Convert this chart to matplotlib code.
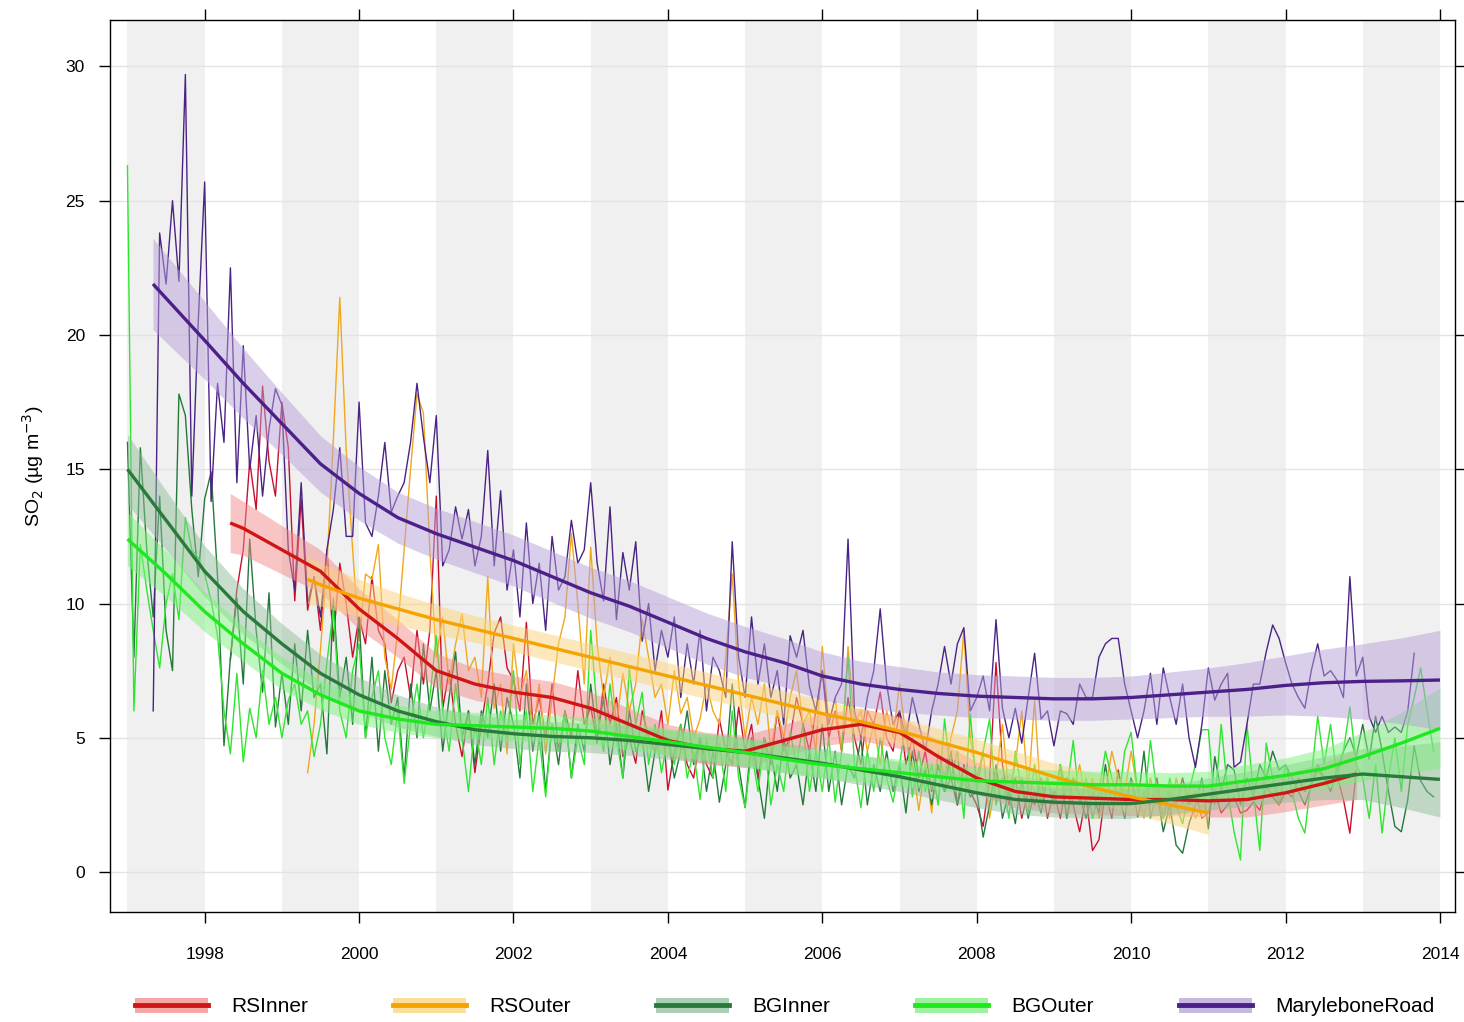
import numpy as np
import matplotlib
matplotlib.use("Agg")
import matplotlib.pyplot as plt
from matplotlib.patches import Patch
from matplotlib.lines import Line2D
from matplotlib.legend_handler import HandlerTuple

plt.rcParams['font.family'] = ['Liberation Sans', 'DejaVu Sans']

# ---- monthly means (start year, start month) ----
mary_start = (1997, 5)
mary = [6.0, 23.8, 21.9, 25.0, 22.0, 29.7, 14.0, 20.5,
        25.7, 13.8, 18.2, 16.0, 22.5, 14.5, 19.6, 15.0, 17.0, 14.0, 16.5, 18.0,
        17.4, 12.0, 10.5, 14.5, 10.0, 11.0, 9.5, 12.0, 13.5, 15.8, 12.5, 12.5,
        17.5, 13.0, 12.5, 14.0, 16.0, 13.4, 14.0, 14.5, 16.0, 18.2, 16.2, 14.5,
        17.0, 11.4, 12.0, 13.6, 12.4, 13.5, 11.4, 12.5, 15.7, 11.4, 14.2, 10.5,
        12.0, 9.5, 13.0, 10.0, 11.5, 9.0, 12.5, 10.5, 11.0, 13.1, 11.5, 12.0,
        14.5, 11.5, 10.1, 13.6, 9.4, 11.9, 10.5, 12.3, 8.6, 10.0, 7.5, 9.0,
        8.0, 9.5, 6.5, 8.5, 7.0, 9.0, 6.0, 8.0, 7.5, 6.5, 12.3, 8.0,
        6.5, 9.5, 7.0, 8.5, 6.5, 7.5, 5.5, 8.8, 8.0, 9.0, 6.9, 6.0,
        7.5, 5.5, 6.5, 7.0, 12.4, 6.0, 5.0, 6.5, 7.5, 9.8, 7.0, 5.5,
        6.0, 5.0, 6.5, 5.5, 4.5, 6.0, 7.0, 8.4, 7.0, 8.5, 9.1, 6.0,
        6.5, 7.3, 6.0, 9.4, 6.1, 5.0, 6.1, 4.8, 6.5, 8.15, 5.7, 6.0,
        4.7, 6.0, 5.9, 5.5, 7.0, 6.5, 6.5, 8.0, 8.5, 8.7, 8.7, 7.0,
        6.0, 5.0, 6.0, 7.4, 5.5, 7.6, 6.5, 5.5, 7.0, 5.0, 3.9, 5.5,
        7.6, 6.4, 7.0, 7.4, 3.9, 4.1, 5.5, 7.0, 7.0, 8.2, 9.2, 8.7,
        7.8, 7.0, 6.5, 6.1, 7.5, 8.5, 7.3, 7.5, 7.15, 6.5, 11.0, 7.3,
        8.0, 5.8, 5.2, 5.8, 5.2, 5.4, 5.2, 6.0, 8.15]

bginner_start = (1997, 1)
bginner = [16.0, 8.0, 15.8, 12.0, 9.5, 14.0, 9.0, 7.5, 17.8, 17.0, 13.5, 11.0,
           13.9, 14.9, 11.0, 4.7, 8.0, 10.2, 7.0, 12.4, 9.0, 6.7, 10.4, 5.4,
           7.4, 5.5, 8.5, 6.0, 9.0, 6.5, 7.0, 4.4, 10.2, 6.5, 8.0, 5.5,
           9.5, 5.0, 8.0, 4.5, 7.5, 5.5, 6.5, 3.5, 7.0, 5.0, 8.5, 6.0,
           7.5, 4.5, 6.5, 8.2, 5.0, 6.0, 4.0, 6.0, 5.0, 7.0, 4.5, 6.5,
           5.5, 3.5, 7.0, 4.5, 6.0, 3.0, 5.5, 4.0, 6.0, 3.5, 5.5, 4.5,
           7.0, 5.0, 6.5, 4.0, 5.5, 3.5, 6.0, 4.5, 5.0, 3.0, 4.5, 5.0,
           5.0, 3.5, 4.5, 6.0, 4.0, 5.0, 3.0, 4.5, 2.6, 4.0, 7.0, 4.0,
           2.4, 5.0, 3.5, 2.0, 4.5, 3.0, 5.0, 3.5, 4.0, 2.5, 4.5, 3.0,
           5.5, 3.0, 4.5, 2.5, 4.0, 3.5, 5.0, 2.5, 4.0, 3.0, 4.5, 3.0,
           4.0, 2.2, 4.5, 3.0, 3.8, 2.5, 4.0, 3.0, 4.5, 2.5, 3.5, 2.8,
           3.0, 1.3, 2.5, 4.0, 2.0, 3.0, 1.8, 3.5, 2.0, 3.0, 2.2, 3.5,
           2.5, 4.0, 2.0, 3.5, 2.8, 2.0, 3.0, 2.2, 4.0, 2.5, 3.0, 2.0,
           3.5, 2.5, 4.5, 2.0, 3.0, 1.5, 2.5, 1.0, 0.7, 1.8, 2.5, 3.5,
           1.6, 4.3, 3.0, 4.0, 3.8, 2.5, 3.5, 2.8, 4.0, 3.5, 4.5, 3.8,
           4.0, 3.5, 3.0, 2.5, 3.2, 4.0, 3.5, 3.0, 3.8, 4.5, 5.0, 4.3,
           5.5, 4.2, 5.8, 4.5, 3.0, 1.7, 1.5, 2.7, 4.7, 3.4, 3.0, 2.8]

bgouter_start = (1997, 1)
bgouter = [26.3, 6.0, 12.2, 10.5, 9.0, 7.6, 10.0, 11.1, 9.4, 13.2, 12.0, 11.7,
           11.1, 10.1, 8.8, 6.0, 4.4, 7.4, 4.1, 6.1, 5.0, 7.5, 5.5, 6.5,
           5.0, 6.4, 7.0, 5.5, 6.0, 4.3, 5.5, 7.8, 9.8, 6.0, 5.0, 7.5,
           8.5, 5.0, 6.5, 7.5, 5.0, 4.0, 6.0, 3.3, 5.5, 7.0, 5.0, 6.5,
           8.8, 6.0, 4.5, 7.0, 5.0, 3.0, 5.5, 4.0, 6.5, 4.0, 6.0, 5.0,
           7.5, 4.0, 6.0, 3.0, 5.0, 2.8, 5.5, 4.5, 6.0, 3.5, 5.0, 4.0,
           9.0, 6.0, 4.5, 7.0, 5.0, 3.5, 7.6, 5.5, 6.7, 4.0, 5.5, 3.7,
           5.0, 4.0, 5.5, 3.5, 4.5, 2.7, 5.0, 3.5, 4.8, 3.0, 6.0, 3.5,
           2.4, 4.5, 3.0, 5.0, 2.5, 4.0, 3.0, 5.2, 4.0, 5.5, 3.0, 4.5,
           3.0, 5.0, 2.6, 4.5, 8.0, 4.0, 2.4, 4.5, 3.0, 5.0, 3.5, 2.6,
           4.0, 5.5, 2.8, 4.5, 3.0, 4.0, 2.5, 5.7, 3.5, 4.5, 2.0, 5.9,
           3.0, 4.5, 5.7, 2.5, 3.5, 2.0, 4.5, 3.0, 2.2, 4.0, 2.5, 3.5,
           2.5, 4.0, 3.0, 4.9, 2.5, 3.5, 2.0, 3.0, 4.5, 3.5, 2.5, 4.5,
           5.2, 3.0, 2.5, 4.9, 3.0, 2.0, 3.5, 2.5, 1.8, 3.0, 4.0, 5.3,
           5.3, 2.5, 5.5, 3.0, 1.5, 0.45, 5.5, 3.0, 0.8, 4.8, 3.5, 2.5,
           4.0, 3.0, 2.0, 1.45, 3.5, 5.8, 4.0, 5.5, 3.5, 4.5, 6.15, 4.0,
           3.5, 2.0, 4.0, 1.45, 3.5, 5.0, 3.0, 5.5, 6.5, 7.6, 6.0, 4.5]

rsinner_start = (1998, 5)
rsinner = [7.9, 10.5, 12.0, 15.3, 13.5, 18.1, 15.3, 14.0,
           17.5, 15.8, 10.1, 13.9, 9.75, 11.0, 9.0, 12.0, 8.6, 11.5, 10.0, 8.0,
           9.5, 8.5, 11.0, 9.0, 8.5, 6.3, 7.5, 8.0, 6.5, 9.0, 7.0, 9.0,
           14.0, 6.1, 7.5, 5.5, 4.3, 6.0, 3.7, 5.5, 7.0, 8.9, 9.5, 7.6,
           7.15, 6.0, 9.3, 5.5, 6.5, 5.0, 7.0, 4.5, 6.0, 5.0, 7.5, 5.5,
           6.15, 4.8, 7.0, 5.5, 6.5, 4.3, 5.0, 4.05, 6.0, 5.0, 4.5, 6.0,
           3.05, 4.5, 5.5, 4.0, 3.5, 5.0, 4.0, 3.5, 5.7, 4.5, 4.0, 6.15,
           4.5, 5.5, 3.5, 5.0, 4.0, 6.0, 4.5, 5.0, 6.5, 5.5, 4.5, 6.0,
           7.5, 5.0, 6.0, 4.5, 6.5, 5.0, 4.0, 6.0, 5.5, 6.7, 5.0, 4.5,
           6.0, 4.0, 5.0, 3.5, 4.5, 3.0, 4.0, 3.0, 3.5, 2.5, 4.0, 3.0,
           2.5, 1.7, 3.5, 7.8, 4.0, 2.5, 3.5, 2.0, 3.0, 2.5, 3.5, 2.0,
           3.0, 2.0, 3.5, 2.5, 1.5, 2.8, 0.8, 1.2, 3.0, 2.0, 3.8, 2.5,
           3.5, 2.05, 3.0, 2.5, 3.5, 2.0, 3.0, 2.5, 3.5, 2.5, 3.0, 2.0,
           2.2, 3.0, 2.2, 2.5, 2.8, 2.2, 2.3, 2.6, 2.3, 3.2, 2.8, 2.5,
           3.0, 2.8, 3.5, 3.0, 3.3, 3.8, 3.5, 3.3, 3.6, 2.7, 1.45, 3.8]

rsouter_start = (1999, 5)
rsouter = [3.7, 5.5, 8.3, 11.4, 16.1, 21.4, 15.7, 12.0,
           8.6, 11.1, 10.9, 12.2, 8.0, 6.8, 9.0, 12.0, 15.0, 17.8, 17.1, 12.0,
           8.0, 9.5, 7.0, 8.5, 9.6, 7.5, 8.0, 6.5, 11.0, 6.1, 7.0, 4.4,
           8.5, 6.5, 7.5, 5.0, 7.0, 4.4, 6.5, 8.5, 9.5, 12.6, 10.0, 7.0,
           12.1, 8.5, 6.5, 8.0, 5.5, 7.4, 6.0, 7.0, 9.4, 8.0, 6.5, 7.0,
           5.5, 7.5, 5.9, 6.5, 5.0, 5.7, 7.0, 6.0, 5.5, 8.0, 11.1, 7.0,
           5.0, 6.5, 5.5, 7.0, 4.5, 6.0, 5.0, 6.5, 7.5, 5.5, 6.0, 4.5,
           8.4, 5.5, 6.5, 4.5, 8.4, 5.5, 6.0, 4.5, 5.5, 4.0, 6.0, 5.0,
           7.0, 5.0, 4.0, 2.3, 4.0, 2.2, 4.5, 3.5, 5.0, 6.0, 9.0, 5.0,
           3.5, 4.5, 2.0, 3.5, 5.5, 3.0, 4.0, 6.0, 3.0, 6.4, 2.5, 3.5,
           2.5, 3.5, 2.0, 3.0, 4.0, 2.5, 3.5, 2.0, 3.0, 4.5, 3.5, 3.0,
           4.5, 3.0, 2.0, 3.5, 2.5, 3.0, 2.0, 3.5, 2.5, 3.0, 2.0, 2.5,
           2.2]

# ---- smooth trends (year, value, band half-width) ----
mary_tr_x = [1997.33, 1998, 1998.5, 1999, 1999.5, 2000, 2000.5, 2001, 2001.5, 2002, 2002.5,
             2003, 2003.5, 2004, 2004.5, 2005, 2005.5, 2006, 2006.5, 2007, 2007.5, 2008,
             2008.5, 2009, 2009.5, 2010, 2010.5, 2011, 2011.5, 2012, 2012.5, 2013, 2013.5, 2014]
mary_tr_y = [21.9, 19.8, 18.2, 16.7, 15.2, 14.1, 13.2, 12.6, 12.1, 11.6, 11.0,
             10.4, 9.9, 9.3, 8.7, 8.2, 7.8, 7.3, 7.0, 6.8, 6.65, 6.55,
             6.5, 6.45, 6.45, 6.5, 6.6, 6.7, 6.8, 6.95, 7.05, 7.1, 7.12, 7.15]
mary_tr_w = [1.7, 1.45, 1.3, 1.15, 1.05, 1.0, 0.95, 0.95, 0.95, 0.95, 0.95,
             0.95, 0.95, 0.95, 0.95, 0.95, 0.9, 0.9, 0.85, 0.85, 0.8, 0.8,
             0.8, 0.8, 0.8, 0.8, 0.85, 0.9, 1.0, 1.1, 1.25, 1.4, 1.6, 1.85]

bgin_tr_x = [1997, 1997.5, 1998, 1998.5, 1999, 1999.5, 2000, 2000.5, 2001, 2001.5, 2002, 2002.5,
             2003, 2003.5, 2004, 2004.5, 2005, 2005.5, 2006, 2006.5, 2007, 2007.5, 2008,
             2008.5, 2009, 2009.5, 2010, 2010.5, 2011, 2011.5, 2012, 2012.5, 2013, 2013.5, 2014]
bgin_tr_y = [15.0, 13.1, 11.2, 9.7, 8.5, 7.4, 6.6, 6.0, 5.6, 5.3, 5.15, 5.05,
             5.0, 4.9, 4.75, 4.6, 4.45, 4.25, 4.05, 3.8, 3.55, 3.25, 2.95,
             2.7, 2.6, 2.55, 2.55, 2.7, 2.9, 3.1, 3.3, 3.5, 3.65, 3.55, 3.45]
bgin_tr_w = [1.3, 1.1, 0.95, 0.85, 0.75, 0.7, 0.65, 0.6, 0.55, 0.55, 0.55, 0.55,
             0.55, 0.55, 0.55, 0.55, 0.55, 0.55, 0.55, 0.55, 0.55, 0.55, 0.55,
             0.55, 0.55, 0.55, 0.55, 0.55, 0.6, 0.65, 0.7, 0.8, 0.95, 1.15, 1.4]

bgout_tr_x = bgin_tr_x
bgout_tr_y = [12.4, 11.1, 9.7, 8.5, 7.4, 6.6, 6.0, 5.7, 5.5, 5.45, 5.4, 5.35,
              5.25, 5.05, 4.85, 4.65, 4.45, 4.2, 4.0, 3.85, 3.7, 3.55, 3.4,
              3.35, 3.3, 3.25, 3.25, 3.2, 3.2, 3.4, 3.6, 3.85, 4.3, 4.8, 5.35]
bgout_tr_w = [1.0, 0.85, 0.75, 0.65, 0.6, 0.55, 0.5, 0.5, 0.5, 0.5, 0.5, 0.5,
              0.5, 0.5, 0.5, 0.5, 0.5, 0.5, 0.5, 0.5, 0.5, 0.5, 0.5,
              0.5, 0.5, 0.5, 0.5, 0.5, 0.55, 0.6, 0.65, 0.75, 0.9, 1.15, 1.5]

rsin_tr_x = [1998.33, 1998.5, 1999, 1999.5, 2000, 2000.5, 2001, 2001.5, 2002, 2002.5,
             2003, 2003.5, 2004, 2004.5, 2005, 2005.5, 2006, 2006.5, 2007, 2007.5, 2008,
             2008.5, 2009, 2009.5, 2010, 2010.5, 2011, 2011.5, 2012, 2012.5, 2012.92]
rsin_tr_y = [13.0, 12.8, 12.0, 11.2, 9.8, 8.7, 7.5, 7.0, 6.7, 6.5,
             6.1, 5.5, 4.9, 4.6, 4.5, 4.9, 5.3, 5.5, 5.2, 4.3, 3.5,
             3.0, 2.8, 2.75, 2.7, 2.7, 2.65, 2.7, 2.95, 3.3, 3.65]
rsin_tr_w = [1.1, 1.0, 0.9, 0.8, 0.75, 0.7, 0.65, 0.6, 0.6, 0.6,
             0.6, 0.6, 0.6, 0.6, 0.6, 0.6, 0.6, 0.6, 0.6, 0.6, 0.6,
             0.6, 0.6, 0.6, 0.6, 0.6, 0.6, 0.65, 0.7, 0.8, 0.95]

rsout_tr_x = [1999.33, 1999.5, 2000, 2000.5, 2001, 2001.5, 2002, 2002.5, 2003, 2003.5,
              2004, 2004.5, 2005, 2005.5, 2006, 2006.5, 2007, 2007.5, 2008, 2008.5,
              2009, 2009.5, 2010, 2010.5, 2011]
rsout_tr_y = [10.9, 10.7, 10.2, 9.8, 9.4, 9.05, 8.7, 8.35, 8.0, 7.65,
              7.3, 6.95, 6.6, 6.25, 5.9, 5.6, 5.25, 4.85, 4.45, 4.0,
              3.55, 3.15, 2.8, 2.5, 2.2]
rsout_tr_w = [0.9, 0.8, 0.7, 0.6, 0.55, 0.5, 0.5, 0.5, 0.5, 0.5,
              0.5, 0.5, 0.5, 0.5, 0.5, 0.5, 0.5, 0.5, 0.5, 0.5,
              0.5, 0.55, 0.6, 0.7, 0.8]

names = ['RSInner', 'RSOuter', 'BGInner', 'BGOuter', 'MaryleboneRoad']
line_cols = ['#c8102e', '#f0a81c', '#23783a', '#2ee62e', '#4a2384']
trend_cols = ['#d01515', '#f5a300', '#2a7a3c', '#1fe81f', '#4b2088']
band_cols = ['#f28a8a', '#fbd37a', '#8fbf98', '#7df07d', '#b7a0d8']


def dec_years(start, n):
    y, m = start
    return y + (m - 1) / 12.0 + np.arange(n) / 12.0


monthly = [(rsinner_start, rsinner), (rsouter_start, rsouter), (bginner_start, bginner),
           (bgouter_start, bgouter), (mary_start, mary)]
trends = [(rsin_tr_x, rsin_tr_y, rsin_tr_w), (rsout_tr_x, rsout_tr_y, rsout_tr_w),
          (bgin_tr_x, bgin_tr_y, bgin_tr_w), (bgout_tr_x, bgout_tr_y, bgout_tr_w),
          (mary_tr_x, mary_tr_y, mary_tr_w)]

fig = plt.figure(figsize=(14.64, 10.22), dpi=100)
ax = fig.add_axes([0.0751, 0.1076, 0.9188, 0.8728])

# alternating year shading
for yr in range(1997, 2014, 2):
    ax.axvspan(yr, yr + 1, color='#f0f0f0', lw=0, zorder=0)
for yv in range(0, 31, 5):
    ax.axhline(yv, color='#e3e3e3', lw=1, zorder=0.5)

for i, (st, vals) in enumerate(monthly):
    x = dec_years(st, len(vals))
    ax.plot(x, vals, color=line_cols[i], lw=1.0, zorder=2)

for i, (tx, ty, tw) in enumerate(trends):
    tx = np.array(tx)
    ty = np.array(ty)
    tw = np.array(tw)
    ax.fill_between(tx, ty - tw, ty + tw, color=band_cols[i], alpha=0.5, lw=0, zorder=3)
for i, (tx, ty, tw) in enumerate(trends):
    ax.plot(tx, ty, color=trend_cols[i], lw=2.4, zorder=4, solid_capstyle='butt')

ax.set_xlim(1996.773, 2014.196)
ax.set_ylim(-1.49, 31.73)
ax.set_xticks(range(1998, 2015, 2))
ax.set_yticks(range(0, 31, 5))
ax.tick_params(axis='both', direction='out', length=8, width=1, labelsize=12.5,
               top=True, right=True, labeltop=False, labelright=False)
ax.tick_params(axis='x', pad=17)
ax.tick_params(axis='y', pad=10)
ax.set_ylabel('SO$_2$ (µg m$^{-3}$)', fontsize=14, labelpad=14)
for sp in ax.spines.values():
    sp.set_linewidth(1)

handles = [(Patch(facecolor=band_cols[i], alpha=0.75, edgecolor='none'),
            Line2D([], [], color=trend_cols[i], lw=3.5)) for i in range(5)]
leg = fig.legend(handles, names, loc='center', ncol=5, frameon=False,
                 bbox_to_anchor=(0.536, 0.0147), fontsize=15, handlelength=3.5,
                 handleheight=0.75, columnspacing=4.1, handletextpad=1.1,
                 borderpad=0, borderaxespad=0,
                 handler_map={tuple: HandlerTuple(ndivide=1, pad=0)})

fig.savefig('out.png', dpi=100)
